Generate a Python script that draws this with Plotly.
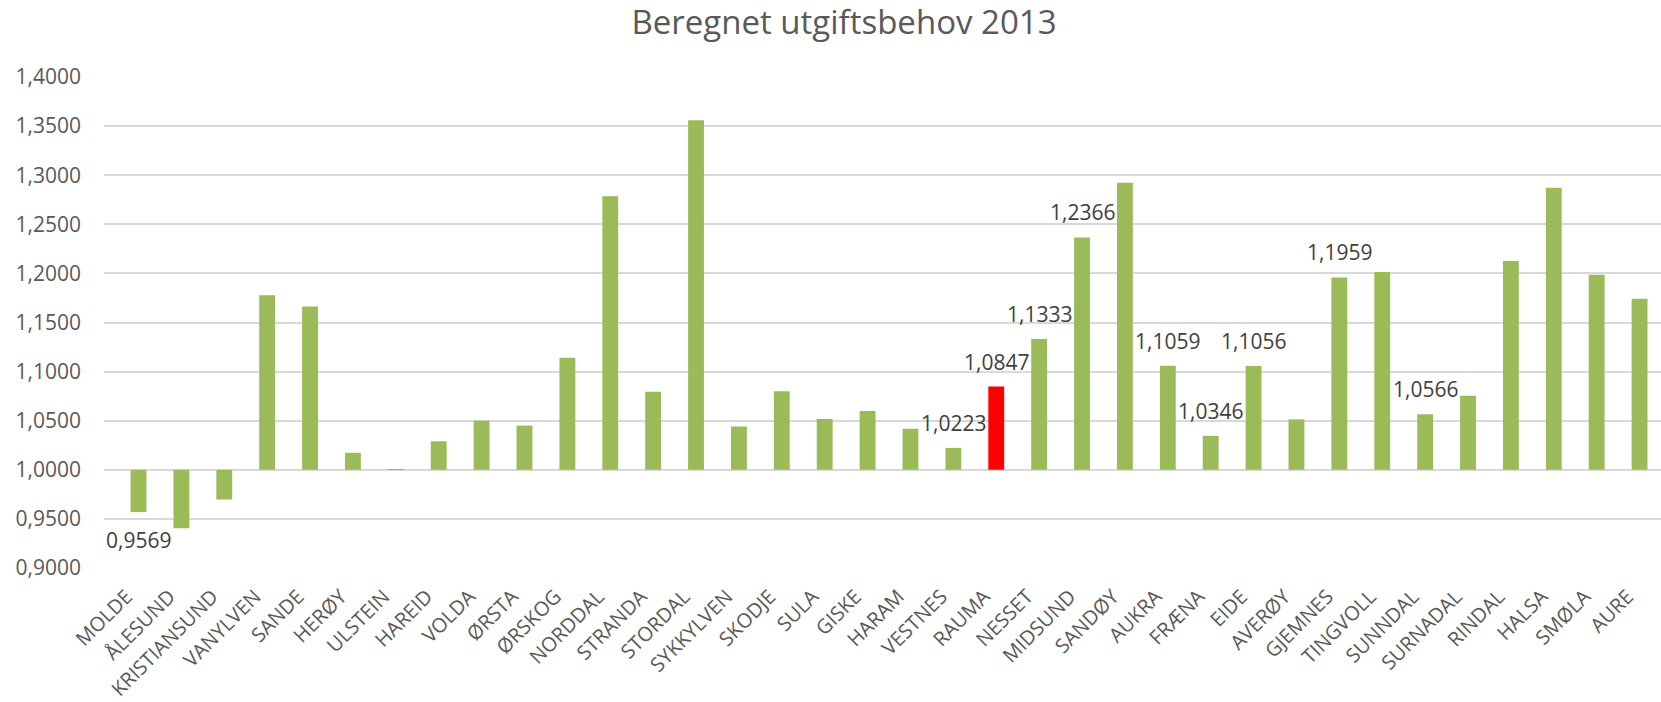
import plotly.graph_objects as go

# Municipalities (Møre og Romsdal) and their calculated expenditure need index
kommuner = [
    "MOLDE", "ÅLESUND", "KRISTIANSUND", "VANYLVEN", "SANDE", "HERØY", "ULSTEIN",
    "HAREID", "VOLDA", "ØRSTA", "ØRSKOG", "NORDDAL", "STRANDA", "STORDAL",
    "SYKKYLVEN", "SKODJE", "SULA", "GISKE", "HARAM", "VESTNES", "RAUMA",
    "NESSET", "MIDSUND", "SANDØY", "AUKRA", "FRÆNA", "EIDE", "AVERØY",
    "GJEMNES", "TINGVOLL", "SUNNDAL", "SURNADAL", "RINDAL", "HALSA", "SMØLA",
    "AURE",
]
utgiftsbehov = [
    0.9569, 0.9405, 0.9697, 1.1777, 1.1664, 1.0173, 1.0004,
    1.0291, 1.0500, 1.0450, 1.1141, 1.2786, 1.0795, 1.3559,
    1.0441, 1.0800, 1.0518, 1.0600, 1.0418, 1.0223, 1.0847,
    1.1333, 1.2366, 1.2923, 1.1059, 1.0346, 1.1056, 1.0514,
    1.1959, 1.2014, 1.0566, 1.0755, 1.2127, 1.2873, 1.1986,
    1.1741,
]
# Municipalities that get a value label
merket = ["MOLDE", "VESTNES", "RAUMA", "NESSET", "MIDSUND", "AUKRA", "FRÆNA",
          "EIDE", "GJEMNES", "SUNNDAL"]
uthevet = "RAUMA"

y_ticks = [0.90, 0.95, 1.00, 1.05, 1.10, 1.15, 1.20, 1.25, 1.30, 1.35, 1.40]
basis = 1.0

GREEN = "#9BBB59"
RED = "#FF0000"
FONT = "Open Sans"

colors = [RED if k == uthevet else GREEN for k in kommuner]

fig = go.Figure()
fig.add_trace(go.Bar(
    x=kommuner,
    y=[v - basis for v in utgiftsbehov],
    base=basis,
    marker=dict(color=colors, line=dict(width=0)),
    hovertext=[f"{v:.4f}".replace(".", ",") for v in utgiftsbehov],
    hoverinfo="x+text",
))

annotations = []
for k, v in zip(kommuner, utgiftsbehov):
    if k not in merket:
        continue
    annotations.append(dict(
        x=k, y=v, xref="x", yref="y",
        text=f"{v:.4f}".replace(".", ","),
        showarrow=False,
        xanchor="center", yanchor="middle",
        yshift=25 if v >= basis else -28,
        font=dict(family=FONT, size=21, color="#404040"),
    ))

fig.update_layout(
    width=1661, height=702,
    margin=dict(l=104, r=0, t=77, b=132, pad=0),
    paper_bgcolor="white", plot_bgcolor="white",
    separators=", ",
    bargap=0.63,
    showlegend=False,
    title=dict(
        text="Beregnet utgiftsbehov 2013",
        x=844 / 1661, xanchor="center", xref="container",
        y=1 - 22 / 702, yanchor="middle", yref="container",
        font=dict(family=FONT, size=33, color="#595959"),
    ),
    annotations=annotations,
)
fig.update_xaxes(
    tickangle=-45,
    tickfont=dict(family=FONT, size=20, color="#595959"),
    showgrid=False, showline=False, ticks="",
    ticklabelstandoff=12,
    ticklabelshift=-12,
)
fig.update_yaxes(
    range=[0.9, 1.4],
    tickvals=y_ticks,
    tickformat=".4f",
    tickfont=dict(family=FONT, size=21, color="#595959"),
    showgrid=True, gridcolor="#D9D9D9", gridwidth=1.5,
    zeroline=False, showline=False, ticks="",
    ticklabelstandoff=22,
)

fig.write_html("out.html")
